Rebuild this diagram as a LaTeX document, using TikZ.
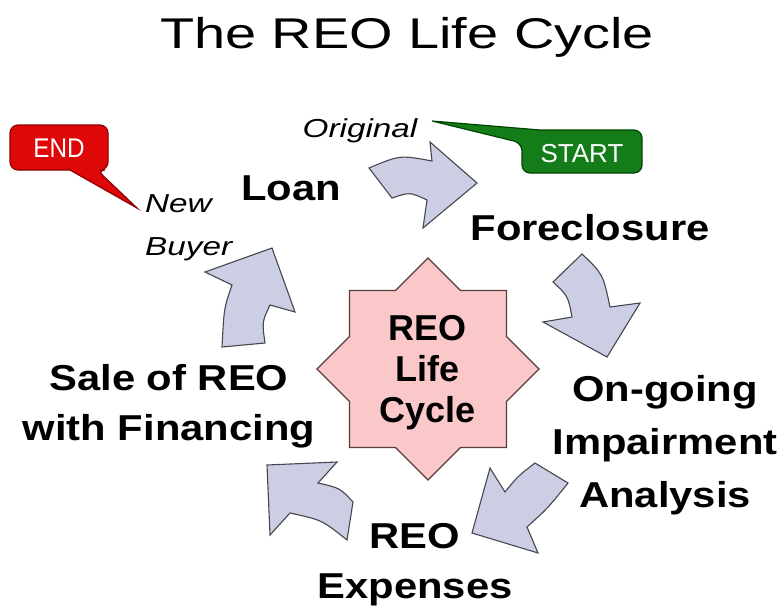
\documentclass[tikz,border=0pt]{standalone}
\usepackage{fontspec}
\usepackage{graphicx}
\setmainfont{Liberation Sans}
\definecolor{arrowfill}{RGB}{204,207,228}
\definecolor{arrowline}{RGB}{70,70,80}
\definecolor{starfill}{RGB}{250,200,200}
\definecolor{starline}{RGB}{90,60,60}
\definecolor{endred}{RGB}{222,8,8}
\definecolor{enddark}{RGB}{140,0,0}
\definecolor{startgreen}{RGB}{20,125,25}
\definecolor{startdark}{RGB}{0,70,0}
\newcommand\bl[1]{\scalebox{1.16}[1]{#1}}
\newcommand\il[1]{\scalebox{1.28}[1]{#1}}
\tikzset{
  lbl/.style={font=\bfseries\fontsize{36}{50}\selectfont, inner sep=0pt, anchor=base},
  itl/.style={font=\itshape\fontsize{26}{43}\selectfont, inner sep=0pt},
  blockarrow/.style={fill=arrowfill, draw=arrowline, line width=1.1pt, line join=miter},
  starshape/.style={fill=starfill, draw=starline, line width=1.1pt},
  endbox/.style={fill=endred, draw=enddark, line width=1.2pt},
  startbox/.style={fill=startgreen, draw=startdark, line width=1.2pt},
  tagtext/.style={text=white, inner sep=0pt, anchor=base},
}
\begin{document}
\begin{tikzpicture}[x=1pt, y=-1pt]
\useasboundingbox[fill=white] (0,0) rectangle (783,608);

% title
\node[font=\fontsize{43}{50}\selectfont, inner sep=0pt, anchor=base] (title) at (407,48) {\scalebox{1.3}[1]{The REO Life Cycle}};

% central star
\draw[starshape, shift={(428,369)}] (0,-111) -- (32.5,-78.5) -- (78.5,-78.5) -- (78.5,-32.5) -- (111,0) -- (78.5,32.5) -- (78.5,78.5) -- (32.5,78.5) -- (0,111) -- (-32.5,78.5) -- (-78.5,78.5) -- (-78.5,32.5) -- (-111,0) -- (-78.5,-32.5) -- (-78.5,-78.5) -- (-32.5,-78.5) -- cycle;
\node[font=\bfseries\fontsize{36}{41}\selectfont, inner sep=0pt, anchor=base] (core) at (427.5,340) {\begin{tabular}[t]{@{}c@{}}REO\\Life\\Cycle\end{tabular}};

% block arrows
\draw[blockarrow] (369,168) .. controls (400,155) .. (432,161) -- (430,142) -- (477,183) -- (423,228) -- (427,200) .. controls (410,192) .. (392,198) -- cycle;
\draw[blockarrow] (582,254) .. controls (603,274) .. (610,307) -- (640,303) -- (607,357) -- (543,322) -- (572,317) .. controls (568,296) .. (553,282) -- cycle;
\draw[blockarrow] (490,468) -- (505,492) .. controls (518,476) .. (535,463) -- (568,483) .. controls (548,508) .. (527,527) -- (538,553) -- (472,533) -- cycle;
\draw[blockarrow] (267,465) -- (337,462) -- (318,483) .. controls (340,488) .. (353,502) -- (347,540) .. controls (322,520) .. (290,513) -- (270,535) -- cycle;
\draw[blockarrow] (272,248) -- (295,312) -- (270,305) .. controls (262,322) .. (265,343) -- (222,347) .. controls (224,308) .. (232,285) -- (205,272) -- cycle;

% stage labels
\node[lbl] (loan) at (291,200) {\bl{Loan}};
\node[lbl] (forecl) at (590,240) {\bl{Foreclosure}};
\node[lbl, font=\bfseries\fontsize{36}{53}\selectfont] (impair) at (665,401) {\begin{tabular}[t]{@{}c@{}}\bl{On-going}\\\bl{Impairment}\\\bl{Analysis}\end{tabular}};
\node[lbl] (expenses) at (415,548) {\begin{tabular}[t]{@{}c@{}}\bl{REO}\\\bl{Expenses}\end{tabular}};
\node[lbl] (sale) at (169,390) {\begin{tabular}[t]{@{}c@{}}\bl{Sale of REO}\\\bl{with Financing}\end{tabular}};

% italic labels
\node[itl, anchor=base] (orig) at (360,137) {\il{Original}};
\node[itl, anchor=base west] (newbuyer) at (145,212) {\begin{tabular}[t]{@{}l@{}}\il{New}\\\il{Buyer}\end{tabular}};

% END callout
\draw[endbox] [rounded corners=8] (10,147) -- (10,125) -- (108,125) -- (108,170) -- (97,170) [sharp corners] -- (137,208) -- (70,170) [rounded corners=8] -- (10,170) -- cycle;
\node[tagtext, font=\fontsize{27}{30}\selectfont] (endt) at (59,157) {\scalebox{0.9}[1]{END}};

% START callout
\draw[startbox] [rounded corners=8] (540,130) -- (642,130) -- (642,173) -- (522,173) -- (522,143) [sharp corners] -- (432,121) -- cycle;
\node[tagtext, font=\fontsize{26}{30}\selectfont] (startt) at (582,162) {START};
\end{tikzpicture}
\end{document}
